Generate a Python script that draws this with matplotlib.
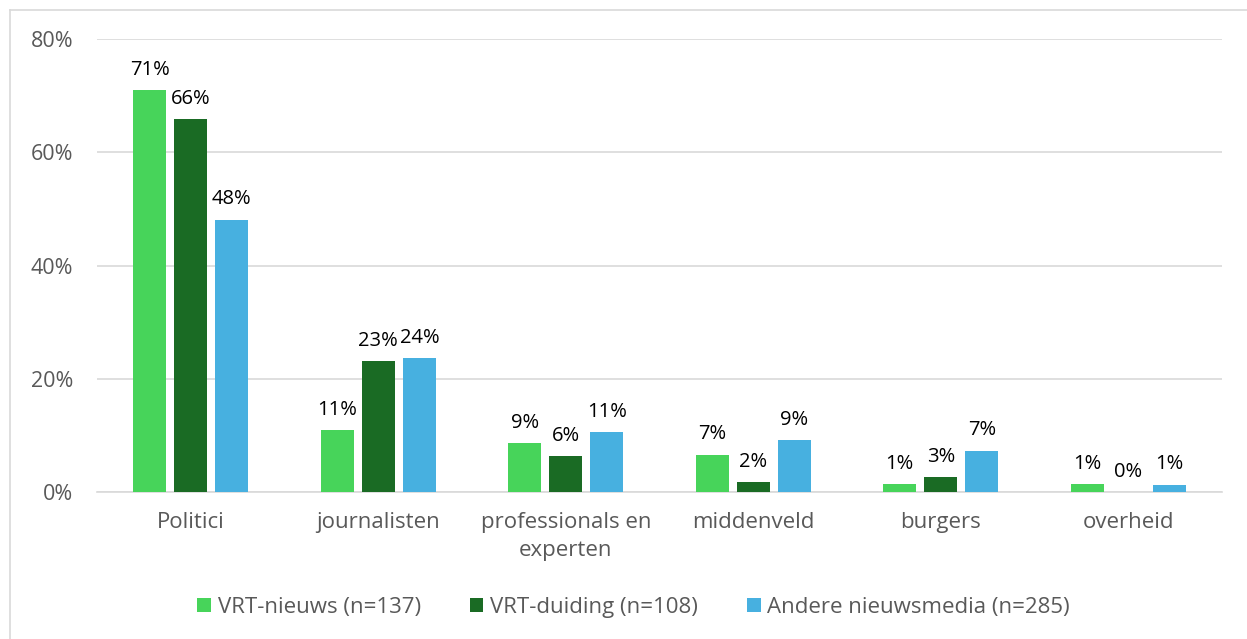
import matplotlib.pyplot as plt
import numpy as np
from matplotlib.lines import Line2D

plt.rc('font', family='Open Sans')

categories = ['Politici', 'journalisten', 'professionals en\nexperten', 'middenveld', 'burgers', 'overheid']
series = ['VRT-nieuws (n=137)', 'VRT-duiding (n=108)', 'Andere nieuwsmedia (n=285)']
vrt_nieuws = [71.0, 10.9, 8.7, 6.6, 1.4, 1.4]
vrt_duiding = [65.9, 23.1, 6.4, 1.8, 2.6, 0.0]
andere = [48.1, 23.6, 10.6, 9.1, 7.3, 1.3]
colors = ['#47D45A', '#1A6B24', '#47B0E0']

fig = plt.figure(figsize=(12.47, 6.39), dpi=100)
ax = fig.add_axes([0.0778, 0.23, 0.9022, 0.709])

x = np.arange(len(categories))
w = 0.176
step = 0.219
for i, (vals, c, name) in enumerate(zip([vrt_nieuws, vrt_duiding, andere], colors, series)):
    pos = x + (i - 1) * step
    ax.bar(pos, vals, width=w, color=c, label=name, zorder=3)
    for p, v in zip(pos, vals):
        ax.text(p, v + 1.8, '%d%%' % round(v), ha='center', va='bottom',
                fontsize=14.5, color='black')

ax.set_xlim(-0.5, len(categories) - 0.5)
ax.set_ylim(0, 80)
ax.set_yticks([0, 20, 40, 60, 80])
ax.set_yticklabels(['%d%%' % t for t in [0, 20, 40, 60, 80]])
ax.set_xticks(x)
ax.set_xticklabels(categories, linespacing=1.45)
ax.yaxis.grid(True, color='#D9D9D9', linewidth=1.2, zorder=0)
for s in ['top', 'right', 'left']:
    ax.spines[s].set_visible(False)
ax.spines['bottom'].set_color('#D9D9D9')
ax.spines['bottom'].set_linewidth(1.2)
ax.tick_params(axis='both', length=0, colors='#595959')
ax.tick_params(axis='y', pad=17, labelsize=15.5)
ax.tick_params(axis='x', pad=14.5, labelsize=16)

fig.legend(loc='center', bbox_to_anchor=(0.508, 0.05), ncol=3, frameon=False,
           fontsize=16, labelcolor='#595959', handlelength=0.62, handleheight=0.62,
           handletextpad=0.3, columnspacing=2.2)

# light frame around the chart
fig.add_artist(Line2D([10/1247, 10/1247], [0, 1 - 10/639], transform=fig.transFigure,
                      color='#D9D9D9', linewidth=1.2))
fig.add_artist(Line2D([10/1247, 1], [1 - 10/639, 1 - 10/639], transform=fig.transFigure,
                      color='#D9D9D9', linewidth=1.2))

plt.savefig('out.png', dpi=100)
